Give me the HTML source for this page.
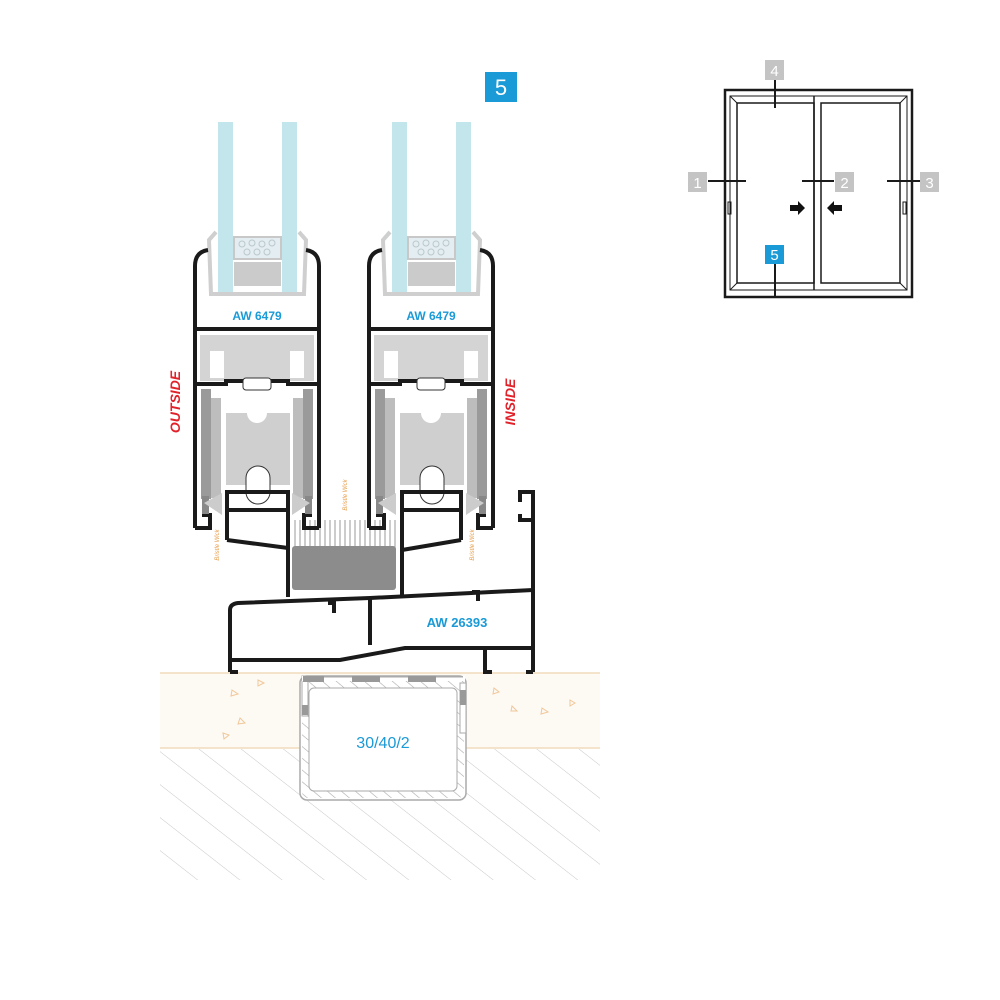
<!DOCTYPE html>
<html><head><meta charset="utf-8"><style>
html,body{margin:0;padding:0;background:#fff}
svg{display:block}
text{font-family:"Liberation Sans",sans-serif}
</style></head><body>
<svg width="1000" height="1000" viewBox="0 0 1000 1000" xmlns="http://www.w3.org/2000/svg">
<defs>
<pattern id="hatch" patternUnits="userSpaceOnUse" width="26" height="26" patternTransform="rotate(-52)">
<line x1="0" y1="0" x2="0" y2="26" stroke="#c8c8c8" stroke-width="1"/>
</pattern>
<pattern id="hatch2" patternUnits="userSpaceOnUse" width="9" height="9" patternTransform="rotate(-50)">
<line x1="0" y1="0" x2="0" y2="9" stroke="#aaa" stroke-width="1.2"/>
</pattern>
<g id="sash">
 <rect x="218" y="122" width="15" height="170" fill="#c2e6ec"/>
 <rect x="282" y="122" width="15" height="170" fill="#c2e6ec"/>
 <rect x="234" y="237" width="47" height="22" fill="#e4eef2" stroke="#c8c8c8" stroke-width="2"/>
 <g fill="none" stroke="#b9c8cc" stroke-width="1">
  <circle cx="242" cy="244" r="3"/><circle cx="252" cy="243" r="3"/><circle cx="262" cy="244" r="3"/><circle cx="272" cy="243" r="3"/>
  <circle cx="247" cy="252" r="3"/><circle cx="257" cy="252" r="3"/><circle cx="267" cy="252" r="3"/>
 </g>
 <rect x="234" y="262" width="47" height="24" fill="#cbcbcb"/>
 <path d="M216,232 L209,240 L211,294 L304,294 L306,240 L299,232" fill="none" stroke="#cfcfcf" stroke-width="4"/>
 <path d="M195,528 V266 Q195,252 208,250 M319,528 V266 Q319,252 306,250" fill="none" stroke="#1a1a1a" stroke-width="4"/>
 <line x1="195" y1="329" x2="319" y2="329" stroke="#1a1a1a" stroke-width="4"/>
 <rect x="200" y="335" width="114" height="46" fill="#d4d4d4"/>
 <rect x="210" y="351" width="14" height="27" fill="#fff"/>
 <rect x="290" y="351" width="14" height="27" fill="#fff"/>
 <path d="M195,384 H226 V381 H288 V384 H319" fill="none" stroke="#1a1a1a" stroke-width="4"/>
 <rect x="243" y="378" width="28" height="12" rx="3" fill="#fff" stroke="#333" stroke-width="1"/>
 <rect x="201" y="389" width="10" height="110" fill="#9a9a9a"/>
 <rect x="211" y="398" width="10" height="100" fill="#bdbdbd"/>
 <rect x="303" y="389" width="10" height="110" fill="#9a9a9a"/>
 <rect x="293" y="398" width="10" height="100" fill="#bdbdbd"/>
 <path d="M226,413 H247 A10,10 0 0 0 267,413 H290 V485 H226 Z" fill="#cfcfcf"/>
 <rect x="246" y="466" width="24" height="38" rx="12" fill="#fff" stroke="#333" stroke-width="1"/>
 <path d="M195,528 H210 V515 H202 M319,528 H304 V515 H312" fill="none" stroke="#1a1a1a" stroke-width="4"/>
 <rect x="202" y="496" width="7" height="18" fill="#888"/>
 <rect x="305" y="496" width="7" height="18" fill="#888"/>
 <path d="M204,503 L222,493 L222,515 Z" fill="#ccc"/>
 <path d="M310,503 L292,493 L292,515 Z" fill="#ccc"/>
</g>
</defs>

<rect x="160" y="673" width="440" height="75" fill="#fdf9f3"/>
<line x1="160" y1="673" x2="600" y2="673" stroke="#f2dcbc" stroke-width="1.5"/>
<line x1="160" y1="748" x2="600" y2="748" stroke="#f2dcbc" stroke-width="1.5"/>
<g fill="none" stroke="#f0c89a" stroke-width="1">
<path d="M232,690 l6,4 l-7,2z"/><path d="M258,680 l6,3 l-6,3z"/><path d="M240,718 l5,5 l-7,1z"/><path d="M223,733 l6,2 l-5,4z"/><path d="M494,688 l5,4 l-6,2z"/><path d="M542,708 l6,4 l-7,2z"/><path d="M512,706 l5,5 l-6,0z"/><path d="M570,700 l5,3 l-5,3z"/>
</g>
<rect x="160" y="749" width="440" height="131" fill="url(#hatch)"/>

<rect x="300" y="676" width="166" height="124" rx="7" fill="#fff" stroke="#aaa" stroke-width="1.5"/>
<rect x="302" y="678" width="162" height="120" rx="6" fill="url(#hatch2)"/>
<rect x="309" y="688" width="148" height="103" rx="5" fill="#fff" stroke="#aaa" stroke-width="1"/>
<rect x="302" y="676" width="6" height="40" fill="#fff" stroke="#aaa" stroke-width="1"/>
<rect x="460" y="683" width="6" height="50" fill="#fff" stroke="#aaa" stroke-width="1"/>
<rect x="302" y="705" width="6" height="10" fill="#999"/>
<rect x="460" y="690" width="6" height="15" fill="#999"/>
<rect x="302" y="676" width="163" height="5" fill="#fff"/>
<rect x="303" y="676" width="160" height="1.5" fill="#aaa"/>
<rect x="303" y="676" width="21" height="6" fill="#999"/>
<rect x="352" y="676" width="28" height="6" fill="#999"/>
<rect x="408" y="676" width="28" height="6" fill="#999"/>
<text x="383" y="748" font-size="16" fill="#1a9ad6" text-anchor="middle">30/40/2</text>

<g stroke="#999" stroke-width="1">
<line x1="295" y1="520" x2="295" y2="548"/><line x1="300" y1="520" x2="300" y2="548"/><line x1="305" y1="520" x2="305" y2="548"/><line x1="310" y1="520" x2="310" y2="548"/><line x1="315" y1="520" x2="315" y2="548"/><line x1="320" y1="520" x2="320" y2="548"/><line x1="325" y1="520" x2="325" y2="548"/><line x1="330" y1="520" x2="330" y2="548"/><line x1="335" y1="520" x2="335" y2="548"/><line x1="340" y1="520" x2="340" y2="548"/><line x1="345" y1="520" x2="345" y2="548"/><line x1="350" y1="520" x2="350" y2="548"/><line x1="355" y1="520" x2="355" y2="548"/><line x1="360" y1="520" x2="360" y2="548"/><line x1="365" y1="520" x2="365" y2="548"/><line x1="370" y1="520" x2="370" y2="548"/><line x1="375" y1="520" x2="375" y2="548"/><line x1="380" y1="520" x2="380" y2="548"/><line x1="385" y1="520" x2="385" y2="548"/><line x1="390" y1="520" x2="390" y2="548"/><line x1="395" y1="520" x2="395" y2="548"/>
</g>
<rect x="292" y="546" width="104" height="44" rx="3" fill="#8c8c8c"/>

<use href="#sash"/>
<use href="#sash" transform="translate(174,0)"/>

<g fill="none" stroke="#1a1a1a" stroke-width="4">
<path d="M227,540 V492 H288 V597"/>
<line x1="227" y1="510" x2="288" y2="510"/>
<path d="M227,540 L288,548"/>
<path d="M402,597 V492 H461 V540"/>
<line x1="402" y1="510" x2="461" y2="510"/>
<path d="M402,550 L461,540"/>
<path d="M230,672 V610 Q230,604 238,603 L370,598 L533,590"/>
<path d="M230,660 H340 L405,648 H533"/>
<line x1="370" y1="598" x2="370" y2="645"/>
<path d="M485,648 V672 H492"/>
<path d="M230,672 H238"/>
<path d="M533,672 H526"/>
<path d="M533,672 V492 H520 V502 M533,520 H520 V514"/>
<path d="M334,602 V613 M328,603 H336"/>
<path d="M478,591 V601 M472,592 H480"/>
</g>
<text x="457" y="627" font-size="13" font-weight="bold" fill="#1a9ad6" text-anchor="middle">AW 26393</text>

<text x="257" y="320" font-size="12" font-weight="bold" fill="#1a9ad6" text-anchor="middle">AW 6479</text>
<text x="431" y="320" font-size="12" font-weight="bold" fill="#1a9ad6" text-anchor="middle">AW 6479</text>
<text transform="translate(180,402) rotate(-90)" font-size="14" font-weight="bold" font-style="italic" fill="#e0222b" text-anchor="middle">OUTSIDE</text>
<text transform="translate(515,402) rotate(-90)" font-size="14" font-weight="bold" font-style="italic" fill="#e0222b" text-anchor="middle">INSIDE</text>
<g font-size="6" fill="#e8a050" font-style="italic">
<text transform="translate(219,545) rotate(-90)" text-anchor="middle">Bristle Wick</text>
<text transform="translate(347,495) rotate(-90)" text-anchor="middle">Bristle Wick</text>
<text transform="translate(474,545) rotate(-90)" text-anchor="middle">Bristle Wick</text>
</g>

<rect x="485" y="72" width="32" height="30" fill="#1a9ad6"/>
<text x="501" y="95" font-size="22" fill="#fff" text-anchor="middle">5</text>

<g fill="none" stroke="#1a1a1a">
<rect x="725" y="90" width="187" height="207" stroke-width="2.5"/>
<rect x="730" y="96" width="177" height="194" stroke-width="1"/>
<rect x="737" y="103" width="77" height="180" stroke-width="1.5"/>
<rect x="821" y="103" width="79" height="180" stroke-width="1.5"/>
<line x1="814" y1="96" x2="814" y2="290" stroke-width="1.5"/>
<line x1="730" y1="96" x2="737" y2="103"/><line x1="907" y1="96" x2="900" y2="103"/>
<line x1="730" y1="290" x2="737" y2="283"/><line x1="907" y1="290" x2="900" y2="283"/>
<line x1="775" y1="80" x2="775" y2="108" stroke-width="2"/>
<line x1="708" y1="181" x2="746" y2="181" stroke-width="2"/>
<line x1="802" y1="181" x2="834" y2="181" stroke-width="2"/>
<line x1="887" y1="181" x2="920" y2="181" stroke-width="2"/>
<line x1="775" y1="262" x2="775" y2="297" stroke-width="2"/>
<rect x="728" y="202" width="3" height="12" stroke-width="1"/>
<rect x="903" y="202" width="3" height="12" stroke-width="1"/>
</g>
<path d="M790,205 h8 v-4 l7,7 l-7,7 v-4 h-8z" fill="#111"/>
<path d="M842,205 h-8 v-4 l-7,7 l7,7 v-4 h8z" fill="#111"/>
<rect x="765" y="60" width="19" height="20" fill="#c4c4c4"/><text x="774.5" y="76" font-size="15" fill="#fff" text-anchor="middle">4</text>
<rect x="688" y="172" width="19" height="20" fill="#c4c4c4"/><text x="697.5" y="188" font-size="15" fill="#fff" text-anchor="middle">1</text>
<rect x="835" y="172" width="19" height="20" fill="#c4c4c4"/><text x="844.5" y="188" font-size="15" fill="#fff" text-anchor="middle">2</text>
<rect x="920" y="172" width="19" height="20" fill="#c4c4c4"/><text x="929.5" y="188" font-size="15" fill="#fff" text-anchor="middle">3</text>
<rect x="765" y="245" width="19" height="19" fill="#1a9ad6"/><text x="774.5" y="260" font-size="15" fill="#fff" text-anchor="middle">5</text>
</svg>
</body></html>
